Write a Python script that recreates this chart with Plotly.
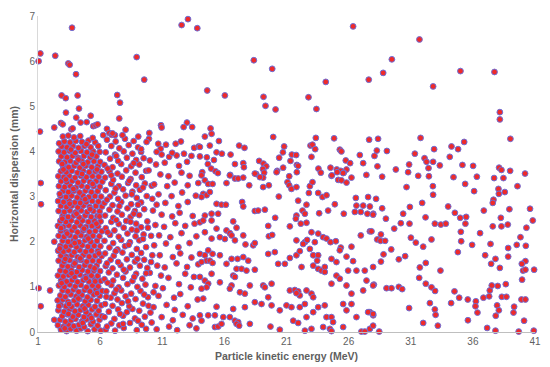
import plotly.graph_objects as go

# points, grouped by region (x: MeV, y: mm)
outliers = [
    (3.74, 6.74), (1.19, 6.17), (1.05, 6.00), (2.39, 6.12), (3.44, 5.95), (3.55, 5.92),
    (4.06, 5.71), (2.90, 5.24), (3.23, 5.18), (4.19, 5.24), (4.30, 4.95), (3.25, 4.86),
    (1.16, 4.44), (2.31, 4.53), (2.85, 4.63), (2.99, 4.60), (3.68, 4.49), (3.79, 4.51),
    (4.08, 4.75), (4.43, 4.64), (4.92, 4.65), (5.24, 4.79), (5.45, 4.56), (5.64, 4.58),
    (5.80, 4.60), (1.22, 3.30), (1.24, 2.83), (2.31, 2.00), (1.05, 0.97), (1.97, 0.92),
    (1.22, 0.57), (2.31, 0.27), (7.38, 5.25), (7.60, 5.08), (7.54, 4.73), (8.94, 6.09),
    (6.55, 4.50), (6.74, 4.41), (6.93, 4.37), (6.25, 4.36), (7.19, 4.36), (9.55, 5.59),
    (12.56, 6.80), (13.07, 6.93), (13.82, 6.73), (12.99, 4.64), (12.72, 4.54), (13.41, 4.54),
    (10.90, 4.58), (10.95, 4.53), (9.07, 4.33), (9.96, 4.41), (9.93, 4.28), (9.74, 4.21),
    (12.08, 4.17), (13.57, 4.08), (13.93, 4.11), (14.43, 4.33), (11.56, 3.88), (12.16, 3.91),
    (12.75, 3.95), (10.68, 4.17), (10.87, 4.06), (10.55, 3.99),
]

core = [
    (2.85, 0.05), (3.3, 0.02), (3.62, 0.07), (4.1, 0.03), (4.45, 0.08), (5.0, 0.02), (5.55, 0.06), (6.05, 0.03),
    (2.6, 0.15), (3.05, 0.12), (3.45, 0.17), (3.88, 0.13), (4.3, 0.16), (4.72, 0.11), (5.25, 0.17), (5.8, 0.14),
    (2.78, 0.27), (3.2, 0.23), (3.66, 0.26), (4.02, 0.29), (4.55, 0.24), (4.9, 0.28), (5.42, 0.23), (5.95, 0.27),
    (2.95, 0.35), (3.38, 0.39), (3.8, 0.34), (4.25, 0.38), (4.7, 0.33), (5.15, 0.37), (5.7, 0.39), (6.15, 0.35),
    (2.64, 0.48), (3.1, 0.45), (3.55, 0.5), (3.97, 0.46), (4.42, 0.49), (4.88, 0.44), (5.35, 0.5), (5.88, 0.47),
    (2.82, 0.6), (3.26, 0.57), (3.7, 0.56), (4.14, 0.61), (4.6, 0.57), (5.05, 0.6), (5.58, 0.56), (6.1, 0.59),
    (2.58, 0.7), (3.0, 0.72), (3.42, 0.67), (3.92, 0.7), (4.33, 0.73), (4.8, 0.68), (5.24, 0.71), (5.75, 0.69),
    (2.8, 0.81), (3.2, 0.78), (3.64, 0.83), (4.08, 0.79), (4.52, 0.82), (4.98, 0.77), (5.48, 0.83), (5.97, 0.8),
    (2.98, 0.92), (3.4, 0.9), (3.86, 0.94), (4.27, 0.89), (4.75, 0.93), (5.18, 0.9), (5.66, 0.94), (6.17, 0.91),
    (2.68, 1.03), (3.12, 1.0), (3.55, 1.05), (4.0, 1.01), (4.45, 1.04), (4.9, 0.99), (5.38, 1.03), (5.85, 1.01),
    (2.86, 1.14), (3.3, 1.12), (3.75, 1.15), (4.18, 1.11), (4.65, 1.15), (5.1, 1.12), (5.58, 1.16), (6.05, 1.13),
    (2.6, 1.25), (3.04, 1.23), (3.48, 1.26), (3.94, 1.22), (4.38, 1.27), (4.82, 1.23), (5.3, 1.25), (5.8, 1.24),
    (2.8, 1.36), (3.22, 1.34), (3.68, 1.37), (4.12, 1.33), (4.56, 1.37), (5.02, 1.34), (5.5, 1.36), (6.0, 1.35),
    (2.96, 1.47), (3.4, 1.45), (3.85, 1.48), (4.3, 1.44), (4.76, 1.48), (5.22, 1.45), (5.72, 1.47),
    (2.66, 1.58), (3.1, 1.56), (3.55, 1.59), (4.0, 1.55), (4.46, 1.59), (4.92, 1.56), (5.4, 1.58), (5.92, 1.57),
    (2.84, 1.69), (3.28, 1.67), (3.72, 1.7), (4.18, 1.66), (4.64, 1.7), (5.12, 1.67), (5.6, 1.69), (6.12, 1.68),
    (2.62, 1.8), (3.05, 1.78), (3.46, 1.81), (3.92, 1.77), (4.36, 1.81), (4.84, 1.78), (5.3, 1.8), (5.82, 1.79),
    (2.8, 1.91), (3.24, 1.89), (3.66, 1.92), (4.1, 1.88), (4.56, 1.92), (5.02, 1.89), (5.52, 1.91), (6.02, 1.9),
    (2.98, 2.02), (3.42, 2.0), (3.86, 2.03), (4.3, 1.99), (4.78, 2.03), (5.25, 2.0), (5.75, 2.02),
    (2.66, 2.13), (3.1, 2.11), (3.56, 2.14), (4.0, 2.1), (4.46, 2.14), (4.92, 2.11), (5.42, 2.13), (5.94, 2.12),
    (2.84, 2.24), (3.28, 2.22), (3.74, 2.25), (4.18, 2.21), (4.64, 2.25), (5.14, 2.22), (5.62, 2.24), (6.14, 2.23),
    (2.6, 2.35), (3.04, 2.33), (3.48, 2.36), (3.94, 2.32), (4.4, 2.36), (4.86, 2.33), (5.34, 2.35), (5.84, 2.34),
    (2.8, 2.46), (3.24, 2.44), (3.68, 2.47), (4.14, 2.43), (4.58, 2.47), (5.06, 2.44), (5.54, 2.46), (6.04, 2.45),
    (2.98, 2.57), (3.42, 2.55), (3.88, 2.58), (4.32, 2.54), (4.8, 2.58), (5.28, 2.55), (5.78, 2.57),
    (2.66, 2.68), (3.12, 2.66), (3.56, 2.69), (4.02, 2.65), (4.48, 2.69), (4.96, 2.66), (5.46, 2.68), (5.96, 2.67),
    (2.84, 2.79), (3.3, 2.77), (3.74, 2.8), (4.2, 2.76), (4.66, 2.8), (5.16, 2.77), (5.66, 2.79), (6.16, 2.78),
    (2.62, 2.9), (3.06, 2.88), (3.5, 2.91), (3.96, 2.87), (4.42, 2.91), (4.88, 2.88), (5.36, 2.9), (5.86, 2.89),
    (2.82, 3.01), (3.26, 2.99), (3.7, 3.02), (4.16, 2.98), (4.62, 3.02), (5.1, 2.99), (5.58, 3.01), (6.08, 3.0),
    (3.0, 3.12), (3.44, 3.1), (3.9, 3.13), (4.34, 3.09), (4.82, 3.13), (5.3, 3.1), (5.8, 3.12),
    (2.68, 3.23), (3.14, 3.21), (3.58, 3.24), (4.04, 3.2), (4.5, 3.24), (4.98, 3.21), (5.48, 3.23), (5.98, 3.22),
    (2.86, 3.34), (3.32, 3.32), (3.76, 3.35), (4.22, 3.31), (4.68, 3.35), (5.18, 3.32), (5.68, 3.34), (6.18, 3.33),
    (2.64, 3.45), (3.08, 3.43), (3.52, 3.46), (3.98, 3.42), (4.44, 3.46), (4.9, 3.43), (5.38, 3.45), (5.88, 3.44),
    (2.84, 3.56), (3.28, 3.54), (3.72, 3.57), (4.18, 3.53), (4.64, 3.57), (5.12, 3.54), (5.62, 3.56), (6.1, 3.55),
    (3.02, 3.67), (3.46, 3.65), (3.92, 3.68), (4.36, 3.64), (4.84, 3.68), (5.32, 3.65), (5.82, 3.67),
    (2.7, 3.78), (3.16, 3.76), (3.6, 3.79), (4.06, 3.75), (4.52, 3.79), (5.0, 3.76), (5.5, 3.78), (6.0, 3.77),
    (2.88, 3.89), (3.34, 3.87), (3.78, 3.9), (4.24, 3.86), (4.7, 3.9), (5.2, 3.87), (5.7, 3.89),
    (2.66, 4.0), (3.1, 3.98), (3.54, 4.01), (4.0, 3.97), (4.46, 4.01), (4.94, 3.98), (5.44, 4.0), (5.96, 3.99),
    (2.9, 4.11), (3.34, 4.09), (3.8, 4.12), (4.26, 4.08), (4.74, 4.12), (5.24, 4.09),
    (3.12, 4.22), (3.58, 4.2), (4.04, 4.23), (4.54, 4.21), (5.06, 4.24), (5.6, 4.2),
    (3.0, 4.33), (3.44, 4.35), (3.9, 4.31), (4.4, 4.34),
]

core_extra = [
    (3.15, 0.08), (4.6, 0.2), (5.3, 0.31), (3.5, 0.62), (4.25, 0.74), (5.75, 0.86), (2.9, 1.08),
    (4.85, 1.19), (3.7, 1.3), (5.55, 1.41), (3.2, 1.62), (4.4, 1.63), (5.9, 1.74), (2.75, 1.85),
    (3.95, 1.97), (5.05, 2.07), (3.35, 2.18), (4.7, 2.29), (5.7, 2.4), (2.95, 2.51), (4.1, 2.62),
    (5.2, 2.72), (3.55, 2.84), (4.8, 2.94), (2.75, 3.06), (3.85, 3.17), (5.4, 3.28), (3.25, 3.38),
    (4.55, 3.5), (5.75, 3.6), (2.95, 3.72), (4.25, 3.82), (5.35, 3.93), (3.65, 4.04), (4.9, 4.16),
    (5.85, 4.12), (3.45, 0.4), (4.75, 0.52), (2.7, 0.57), (5.6, 1.12), (3.95, 1.52), (2.85, 2.3),
    (4.4, 2.86), (5.95, 2.56), (3.05, 3.6), (4.65, 3.72), (2.7, 4.18), (5.4, 4.3),
]

mid = [
    (6.45, 0.05), (7.2, 0.03), (7.9, 0.09), (8.95, 0.04), (9.7, 0.07),
    (6.9, 0.19), (7.55, 0.15), (8.4, 0.2), (9.35, 0.16), (10.15, 0.21),
    (6.35, 0.33), (7.15, 0.29), (7.85, 0.36), (8.8, 0.3), (9.6, 0.34),
    (6.7, 0.45), (7.45, 0.5), (8.15, 0.44), (8.6, 0.51), (9.15, 0.47), (10.05, 0.43),
    (6.4, 0.62), (7.0, 0.58), (7.75, 0.64), (8.35, 0.57), (9.45, 0.63),
    (6.85, 0.76), (7.4, 0.72), (8.05, 0.79), (8.85, 0.73), (9.85, 0.77),
    (6.5, 0.9), (7.15, 0.86), (7.7, 0.92), (8.5, 0.85), (9.25, 0.91), (10.3, 0.88),
    (6.9, 1.04), (7.5, 0.99), (8.2, 1.06), (9.0, 1.0), (9.65, 1.05),
    (6.35, 1.17), (7.05, 1.14), (7.85, 1.2), (8.6, 1.13), (9.4, 1.18),
    (6.7, 1.32), (7.35, 1.27), (8.05, 1.34), (8.9, 1.29), (10.0, 1.31),
    (6.45, 1.46), (7.0, 1.41), (7.65, 1.48), (8.4, 1.43), (9.2, 1.47), (9.8, 1.42),
    (6.85, 1.6), (7.45, 1.55), (8.15, 1.61), (8.8, 1.56), (9.55, 1.6),
    (6.4, 1.74), (7.1, 1.69), (7.8, 1.76), (8.55, 1.71), (9.3, 1.75), (10.2, 1.7),
    (6.75, 1.87), (7.4, 1.83), (8.0, 1.9), (8.95, 1.84), (9.7, 1.88),
    (6.35, 2.02), (7.05, 1.97), (7.7, 2.04), (8.4, 1.99), (9.15, 2.03),
    (6.8, 2.15), (7.5, 2.11), (8.2, 2.18), (8.85, 2.12), (9.5, 2.16), (10.1, 2.13),
    (6.45, 2.3), (7.15, 2.25), (7.9, 2.31), (8.55, 2.27), (9.3, 2.32),
    (6.9, 2.44), (7.5, 2.39), (8.1, 2.46), (8.9, 2.4), (9.8, 2.45),
    (6.4, 2.58), (7.05, 2.53), (7.75, 2.6), (8.45, 2.55), (9.15, 2.59),
    (6.75, 2.71), (7.4, 2.67), (8.2, 2.74), (8.8, 2.68), (9.55, 2.72), (10.25, 2.69),
    (6.35, 2.86), (7.0, 2.81), (7.7, 2.88), (8.5, 2.83), (9.3, 2.87),
    (6.8, 3.0), (7.45, 2.95), (8.05, 3.02), (8.95, 2.97), (9.75, 3.01),
    (6.45, 3.14), (7.15, 3.09), (7.85, 3.16), (8.6, 3.11), (9.2, 3.15),
    (6.9, 3.28), (7.5, 3.23), (8.25, 3.3), (8.9, 3.25), (9.6, 3.29), (10.15, 3.24),
    (6.4, 3.42), (7.05, 3.37), (7.75, 3.44), (8.45, 3.39), (9.35, 3.43),
    (6.75, 3.56), (7.4, 3.51), (8.1, 3.58), (8.85, 3.53), (9.7, 3.57),
    (6.35, 3.7), (7.0, 3.65), (7.7, 3.72), (8.5, 3.67), (9.15, 3.71),
    (6.8, 3.84), (7.45, 3.79), (8.15, 3.86), (8.9, 3.81), (9.5, 3.85), (10.0, 3.8),
    (6.45, 3.98), (7.2, 3.93), (7.9, 4.0), (8.6, 3.95), (9.3, 3.99),
    (6.9, 4.12), (7.55, 4.07), (8.3, 4.14), (9.05, 4.09),
    (6.55, 4.26), (7.25, 4.22), (8.0, 4.28), (8.7, 4.23),
    (7.0, 4.4), (7.8, 4.36),
]

mid_extra = [
    (6.55, 0.12), (7.6, 0.4), (8.25, 0.68), (9.05, 0.25), (9.9, 0.58), (6.6, 1.09), (7.3, 0.94),
    (8.75, 1.22), (9.55, 0.83), (10.1, 1.55), (6.55, 1.52), (7.25, 1.79), (8.3, 1.93), (9.0, 1.62),
    (9.85, 2.31), (6.6, 2.21), (7.3, 2.48), (8.7, 2.62), (9.45, 2.06), (10.2, 2.95), (6.55, 2.93),
    (7.25, 3.18), (8.35, 3.35), (9.05, 2.82), (9.9, 3.58), (6.6, 3.62), (7.3, 3.9), (8.7, 3.74),
    (9.45, 3.2), (8.05, 4.48), (6.5, 0.78), (7.9, 1.38), (8.95, 2.25), (9.7, 1.3), (7.55, 2.79),
    (8.55, 3.05), (6.9, 3.47), (9.3, 4.05), (7.85, 0.18), (8.45, 2.44),
]

shoulder = [
    (10.55, 0.06), (11.55, 0.12), (12.2, 0.04), (13.2, 0.15), (13.75, 0.08),
    (10.95, 0.33), (11.85, 0.26), (12.65, 0.38), (13.45, 0.3),
    (10.3, 0.55), (11.35, 0.6), (12.0, 0.49), (13.05, 0.57),
    (10.7, 0.8), (11.95, 0.76), (12.45, 0.84), (13.85, 0.72),
    (10.45, 1.02), (11.05, 0.97), (12.35, 1.06), (13.3, 0.99),
    (10.9, 1.25), (11.5, 1.2), (12.85, 1.29), (13.55, 1.22),
    (10.6, 1.47), (11.2, 1.43), (12.15, 1.52), (13.0, 1.44), (13.9, 1.5),
    (10.8, 1.7), (11.85, 1.66), (12.45, 1.74), (13.35, 1.65),
    (10.35, 1.92), (11.3, 1.96), (12.3, 1.88), (13.2, 1.97),
    (10.75, 2.14), (11.65, 2.1), (12.55, 2.19), (13.75, 2.12),
    (10.45, 2.37), (11.15, 2.33), (12.05, 2.41), (12.85, 2.35), (13.6, 2.4),
    (10.95, 2.6), (11.8, 2.56), (12.4, 2.64), (13.45, 2.57),
    (10.55, 2.82), (11.25, 2.86), (12.3, 2.79), (13.05, 2.88),
    (10.7, 3.05), (11.75, 3.01), (12.6, 3.09), (13.7, 3.02),
    (10.35, 3.27), (11.4, 3.23), (12.0, 3.31), (13.05, 3.25), (13.9, 3.3),
    (10.85, 3.49), (11.5, 3.45), (12.55, 3.53), (13.2, 3.46),
    (10.5, 3.71), (11.2, 3.75), (12.35, 3.68), (13.0, 3.77),
    (10.95, 3.93), (11.8, 3.97), (13.35, 3.9),
    (11.3, 4.15), (12.5, 4.22),
]

tail = [
    # upper band, 14-28 MeV
    (26.36, 6.77), (18.37, 6.02), (19.85, 5.83), (24.16, 5.54), (27.62, 5.59), (14.62, 5.35),
    (16.04, 5.24), (19.15, 5.21), (19.31, 5.01), (20.12, 4.93), (22.77, 5.20), (23.41, 4.94),
    (14.89, 4.51), (14.97, 4.39), (15.56, 4.23), (19.93, 4.32), (23.36, 4.30), (24.83, 4.29),
    (27.65, 4.26), (28.37, 4.28), (14.83, 4.13), (17.19, 4.13), (17.62, 4.08), (20.81, 4.11),
    (22.93, 4.13), (23.09, 4.15), (23.31, 4.05), (25.29, 4.04), (25.42, 4.00), (28.27, 4.02),
    (14.03, 4.10), (15.37, 3.98), (15.80, 3.95), (16.50, 3.93), (20.71, 3.98), (21.43, 3.93),
    (21.78, 3.92), (14.03, 3.89), (14.59, 3.87), (20.41, 3.86), (23.01, 3.88), (26.90, 3.92),
    (28.08, 3.90), (15.16, 3.81), (18.80, 3.79), (21.32, 3.79), (25.77, 3.80), (26.12, 3.74),
    (14.67, 3.72), (16.85, 3.72), (17.52, 3.74), (19.15, 3.73), (19.37, 3.67), (21.83, 3.70),
    (21.94, 3.68), (27.17, 3.74), (17.57, 3.65), (20.73, 3.64), (24.54, 3.64), (28.32, 3.67),
    (14.94, 3.62), (19.10, 3.61), (23.57, 3.62), (25.05, 3.60), (25.83, 3.60), (14.22, 3.54),
    (15.29, 3.56), (15.48, 3.52), (18.56, 3.50), (19.20, 3.53), (20.25, 3.57), (21.83, 3.54),
    (23.76, 3.53), (24.62, 3.46), (25.37, 3.57), (25.61, 3.53), (27.43, 3.48), (16.47, 3.48),
    (16.85, 3.40), (19.12, 3.42),
    # upper band, 28-41 MeV
    (31.70, 6.48), (29.48, 6.04), (28.78, 5.74), (35.00, 5.78), (37.74, 5.76), (32.80, 5.44),
    (38.17, 4.87), (38.17, 4.71), (31.79, 4.30), (39.02, 4.28), (35.30, 4.21), (29.08, 4.01),
    (32.88, 4.05), (34.28, 4.11), (34.81, 4.05), (31.33, 3.95), (34.14, 3.88), (32.11, 3.85),
    (32.27, 3.77), (32.80, 3.77), (30.87, 3.71), (33.34, 3.69), (35.16, 3.70), (36.02, 3.68),
    (29.80, 3.60), (30.79, 3.54), (32.43, 3.63), (38.11, 3.64), (38.30, 3.59), (39.00, 3.57),
    (40.20, 3.51), (28.70, 3.44), (31.60, 3.46), (32.46, 3.45), (34.44, 3.43), (36.32, 3.44),
    (37.71, 3.41), (38.46, 3.41),
    # lower band, 28-41 MeV
    (30.66, 3.21), (32.78, 3.23), (32.80, 3.04), (35.38, 3.28), (36.10, 3.12), (38.06, 3.17),
    (38.09, 3.06), (38.57, 3.10), (39.59, 3.23), (37.66, 2.93), (37.60, 2.86), (27.71, 2.78),
    (27.98, 2.62), (28.70, 2.74), (29.00, 2.51), (30.39, 2.62), (30.93, 2.77), (31.92, 2.86),
    (32.19, 2.54), (30.20, 2.41), (30.90, 2.40), (32.94, 2.40), (33.42, 2.38), (33.82, 2.40),
    (34.01, 2.78), (34.55, 2.64), (34.98, 2.53), (35.46, 2.55), (35.40, 2.40), (36.88, 2.69),
    (38.25, 2.53), (37.60, 2.34), (38.30, 2.34), (38.81, 2.38), (38.94, 2.72), (40.60, 2.73),
    (40.82, 2.47), (40.31, 2.31), (27.71, 2.23), (29.67, 2.29), (28.60, 2.16), (28.30, 2.05),
    (28.57, 2.02), (28.94, 2.02), (31.01, 2.09), (31.41, 1.98), (32.00, 1.89), (32.67, 2.05),
    (35.03, 2.22), (35.06, 2.01), (34.79, 1.77), (35.94, 1.93), (36.58, 2.19), (37.42, 1.95),
    (39.83, 2.10), (39.53, 1.93), (40.26, 1.91), (38.84, 1.86), (38.84, 1.67), (29.43, 1.83),
    (28.81, 1.72), (28.60, 1.56), (30.04, 1.61), (30.55, 1.68), (31.73, 1.43), (32.21, 1.53),
    (31.68, 1.20), (33.39, 1.36), (36.99, 1.70), (37.82, 1.62), (37.47, 1.51), (38.17, 1.42),
    (40.23, 1.57), (39.94, 1.51), (40.04, 1.36), (40.23, 1.38), (40.93, 1.38), (39.96, 1.16),
    (28.03, 1.05), (29.05, 0.97), (29.45, 0.97), (30.04, 1.00), (30.31, 0.95), (32.21, 1.07),
    (32.67, 0.99), (32.96, 0.91), (34.52, 0.90), (34.90, 0.76), (35.59, 0.72), (36.24, 0.68),
    (36.21, 0.57), (36.37, 0.43), (34.25, 0.64), (36.85, 0.76), (37.31, 0.79), (37.36, 0.92),
    (37.52, 1.03), (38.00, 1.02), (38.65, 1.06), (38.33, 0.78), (38.70, 0.78), (37.95, 0.59),
    (38.09, 0.48), (37.84, 0.36), (39.32, 0.56), (39.27, 0.43), (39.91, 0.72), (40.23, 0.72),
    (40.12, 0.25), (32.54, 0.64), (32.94, 0.50), (33.00, 0.38), (33.18, 0.14), (32.00, 0.20),
    (30.87, 0.53), (27.71, 0.44), (27.98, 0.37), (27.71, 0.07), (28.46, 0.01), (35.60, 0.26),
    (37.15, 0.09), (37.82, 0.03), (39.69, 0.01), (40.90, 0.03),
    # lower band, 14-28 MeV
    (14.16, 3.47), (14.43, 3.36), (14.70, 3.28), (15.05, 3.28), (14.30, 3.06), (14.57, 3.03),
    (14.83, 3.10), (14.16, 2.99), (16.17, 3.30), (16.44, 3.47), (17.11, 3.40), (17.52, 3.42),
    (18.00, 3.25), (18.45, 3.51), (18.86, 3.43), (19.12, 3.21), (19.58, 3.25), (20.20, 3.54),
    (21.08, 3.32), (21.22, 3.25), (21.40, 3.17), (21.80, 3.21), (21.22, 3.45), (22.88, 3.23),
    (23.09, 3.32), (22.80, 3.08), (23.55, 3.08), (23.90, 2.99), (24.22, 3.03), (24.65, 3.47),
    (25.08, 3.54), (25.16, 3.37), (25.42, 3.36), (25.56, 3.52), (25.83, 3.31), (26.23, 3.42),
    (26.58, 2.97), (27.57, 2.99), (28.21, 2.95), (26.63, 2.80), (27.17, 2.80), (27.51, 2.62),
    (27.97, 2.60), (26.98, 2.66), (15.37, 2.84), (15.77, 2.82), (16.12, 2.82), (14.43, 2.58),
    (14.97, 2.62), (15.50, 2.62), (17.43, 2.88), (17.52, 2.78), (18.45, 2.68), (18.72, 2.69),
    (19.26, 2.71), (20.38, 3.00), (21.94, 2.91), (22.61, 2.82), (22.29, 2.69), (22.48, 2.62),
    (21.80, 2.58), (21.75, 2.51), (23.63, 2.63), (24.35, 2.69), (24.89, 2.83), (25.61, 2.62),
    (26.50, 2.66), (20.09, 2.53), (21.27, 2.34), (22.15, 2.40), (22.61, 2.42), (14.03, 2.43),
    (14.30, 2.47), (14.97, 2.47), (15.37, 2.29), (16.17, 2.25), (16.71, 2.45), (16.98, 2.31),
    (16.44, 2.19), (16.04, 2.06), (16.58, 2.14), (16.85, 2.03), (17.52, 2.14), (15.64, 2.10),
    (14.97, 2.07), (14.43, 2.21), (17.70, 1.94), (18.32, 1.92), (18.45, 1.97), (19.53, 2.35),
    (19.58, 2.12), (19.85, 2.15), (21.80, 2.03), (22.48, 1.99), (22.66, 2.04), (23.01, 2.21),
    (23.28, 1.99), (23.55, 2.18), (23.95, 2.10), (24.22, 2.07), (24.54, 1.99), (24.97, 2.01),
    (25.37, 1.87), (25.29, 1.81), (26.23, 1.89), (26.98, 2.14), (27.84, 2.23), (14.03, 1.73),
    (14.43, 1.70), (14.70, 1.81), (15.05, 1.73), (14.57, 1.58), (14.83, 1.58), (14.16, 1.55),
    (15.05, 1.53), (15.64, 1.70), (16.17, 1.51), (16.58, 1.62), (17.06, 1.62), (17.52, 1.66),
    (17.92, 1.58), (16.98, 1.40), (17.38, 1.40), (17.78, 1.36), (18.45, 1.38), (19.53, 1.73),
    (20.06, 1.77), (20.33, 1.51), (20.87, 1.51), (21.27, 1.64), (21.80, 1.70), (22.07, 1.79),
    (22.34, 1.95), (22.88, 1.84), (23.15, 1.70), (23.55, 1.70), (23.47, 1.58), (23.15, 1.47),
    (22.21, 1.44), (23.55, 1.40), (23.82, 1.36), (24.08, 1.44), (24.62, 1.62), (25.02, 1.55),
    (25.83, 1.67), (26.36, 1.57), (26.63, 1.36), (25.96, 1.36), (27.30, 1.36), (27.97, 1.44),
    (14.03, 1.22), (14.43, 1.14), (14.70, 1.07), (14.57, 0.99), (14.16, 0.96), (14.97, 1.29),
    (15.64, 1.10), (16.71, 1.25), (16.85, 1.22), (16.58, 1.03), (16.44, 0.96), (17.25, 0.88),
    (17.65, 0.85), (18.05, 1.03), (19.12, 1.03), (19.26, 0.99), (19.53, 0.77), (19.80, 1.07),
    (21.27, 0.92), (21.67, 0.93), (21.94, 0.90), (22.07, 0.81), (21.80, 0.86), (22.61, 0.92),
    (23.01, 0.85), (23.15, 0.77), (24.08, 1.33), (24.62, 1.07), (25.02, 1.25), (25.29, 1.18),
    (25.83, 1.03), (26.23, 0.85), (27.17, 0.92), (27.44, 1.14), (27.97, 1.03), (14.30, 0.74),
    (14.03, 0.37), (14.70, 0.37), (15.37, 0.56), (15.24, 0.37), (15.91, 0.33), (16.44, 0.33),
    (16.71, 0.51), (16.85, 0.25), (17.11, 0.22), (17.65, 0.55), (18.05, 0.18), (18.45, 0.66),
    (18.99, 0.62), (19.80, 0.59), (20.46, 0.48), (21.00, 0.59), (21.40, 0.55), (21.54, 0.25),
    (22.07, 0.55), (22.48, 0.62), (22.61, 0.33), (23.15, 0.44), (23.55, 0.55), (24.08, 0.59),
    (24.22, 0.33), (24.62, 0.33), (24.75, 0.22), (25.56, 0.62), (25.83, 0.48), (26.23, 0.62),
    (26.63, 0.33), (27.57, 0.44), (27.97, 0.40), (14.16, 0.25), (15.24, 0.11), (15.50, 0.12),
    (15.77, 0.18), (16.98, 0.18), (17.19, 0.14), (19.71, 0.12), (20.46, 0.05), (21.94, 0.20),
    (22.48, 0.03), (23.01, 0.07), (23.95, 0.11), (24.49, 0.07), (24.62, 0.02), (25.56, 0.11),
    (27.03, 0.01), (27.30, 0.01), (27.97, 0.14),
]

x_ticks = [1, 6, 11, 16, 21, 26, 31, 36, 41]

points = outliers + core + core_extra + mid + mid_extra + shoulder + tail
energy = [p[0] for p in points]
dispersion = [p[1] for p in points]

font = "Liberation Sans, Arial, sans-serif"
grey = "#5f5f5f"

fig = go.Figure(
    go.Scatter(
        x=energy,
        y=dispersion,
        mode="markers",
        marker=dict(size=5.8, color="#ee2a2a", line=dict(color="#6d6fd8", width=1)),
        hoverinfo="skip",
        cliponaxis=False,
    )
)

fig.update_layout(
    width=550,
    height=367,
    margin=dict(l=38, r=15, t=16, b=35),
    paper_bgcolor="white",
    plot_bgcolor="white",
    showlegend=False,
    font=dict(family=font, size=10, color=grey),
    xaxis=dict(
        range=[1, 41],
        tickvals=x_ticks,
        showgrid=False,
        zeroline=False,
        showline=True,
        linecolor="#bfbfbf",
        linewidth=1,
        ticks="",
        tickfont=dict(size=10, color=grey),
        title=dict(text="<b>Particle kinetic energy (MeV)</b>",
                   font=dict(size=10.5, color=grey), standoff=6),
        automargin=False,
    ),
    yaxis=dict(
        range=[0, 7],
        dtick=1,
        showgrid=False,
        zeroline=False,
        showline=True,
        linecolor="#d9d9d9",
        linewidth=1,
        ticks="",
        tickfont=dict(size=10, color=grey),
        title=dict(text="<b>Horizontal dispersion (mm)</b>",
                   font=dict(size=10.5, color=grey), standoff=8),
        automargin=False,
    ),
)

# the page's default body margin would push the 550x367 figure off the window
fig.write_html(
    "out.html",
    config={"displayModeBar": False},
    post_script="document.body.style.margin='0';",
)
